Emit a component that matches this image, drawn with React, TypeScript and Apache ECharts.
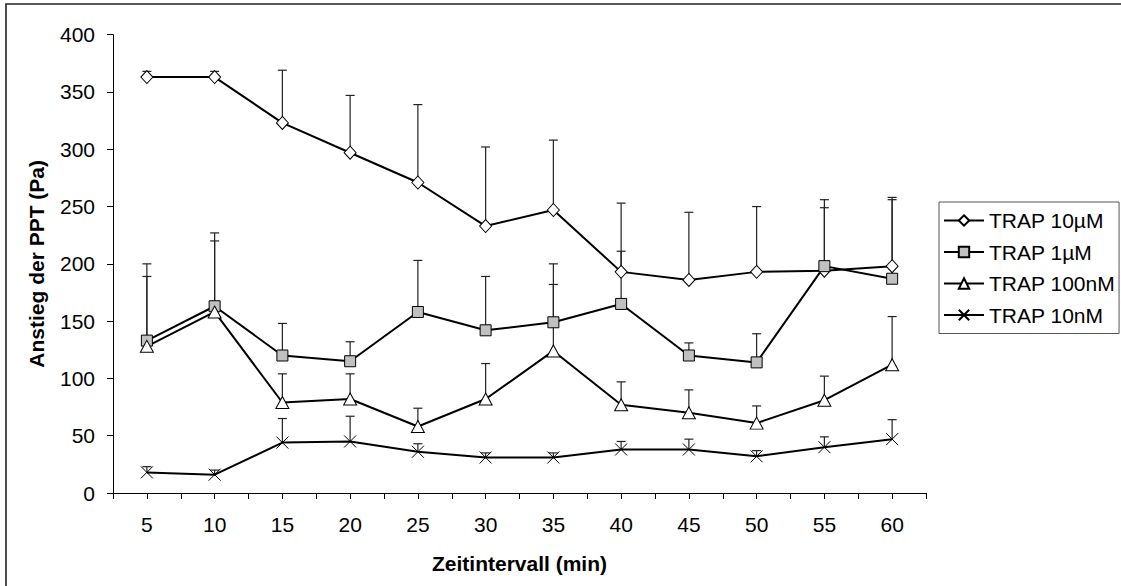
import React, { useEffect, useRef } from "react";
import * as echarts from "echarts";

const times = [5, 10, 15, 20, 25, 30, 35, 40, 45, 50, 55, 60];
const trap10uM = [363, 363, 323, 297, 271, 233, 247, 193, 186, 193, 194, 198];
const trap10uMErr = [5, 5, 46, 50, 68, 69, 61, 60, 59, 57, 55, 60];
const trap1uM = [133, 163, 120, 115, 158, 142, 149, 165, 120, 114, 198, 187];
const trap1uMErr = [67, 64, 28, 17, 45, 47, 51, 46, 11, 25, 58, 69];
const trap100nM = [128, 158, 79, 82, 58, 82, 124, 77, 70, 61, 81, 112];
const trap100nMErr = [61, 62, 25, 22, 16, 31, 58, 20, 20, 15, 21, 42];
const trap10nM = [18, 16, 44, 45, 36, 31, 31, 38, 38, 32, 40, 47];
const trap10nMErr = [5, 4, 21, 22, 7, 4, 4, 7, 9, 5, 9, 17];

const seriesNames = ["TRAP 10µM", "TRAP 1µM", "TRAP 100nM", "TRAP 10nM"];
const yTicks = [0, 50, 100, 150, 200, 250, 300, 350, 400];

const FONT = "'Liberation Sans', Arial, sans-serif";

export default function App() {
  const ref = useRef<HTMLDivElement>(null);
  useEffect(() => {
    if (!ref.current) return;
    const chart = echarts.init(ref.current, null, { renderer: "svg" });

    const values = [trap10uM, trap1uM, trap100nM, trap10nM];
    const errs = [trap10uMErr, trap1uMErr, trap100nMErr, trap10nMErr];
    const symbols = [
      { symbol: "diamond", size: [12, 13], fill: "#ffffff" },
      { symbol: "rect", size: [11, 11], fill: "#c0c0c0" },
      { symbol: "triangle", size: [13, 12], fill: "#ffffff" },
      { symbol: "path://M0,0L10,10M10,0L0,10", size: [12, 12], fill: "#000" },
    ];

    const errSeries = values.map((vals, si) => ({
      type: "custom",
      name: "err" + si,
      z: 1,
      silent: true,
      data: vals.map((v, i) => [times[i], v, v + errs[si][i]]),
      renderItem: (params: any, api: any) => {
        const p0 = api.coord([api.value(0), api.value(1)]);
        const p1 = api.coord([api.value(0), api.value(2)]);
        const st = { stroke: "#222", lineWidth: 1.2 };
        return {
          type: "group",
          children: [
            { type: "line", shape: { x1: p0[0], y1: p0[1], x2: p1[0], y2: p1[1] }, style: st },
            { type: "line", shape: { x1: p1[0] - 4.5, y1: p1[1], x2: p1[0] + 4.5, y2: p1[1] }, style: st },
          ],
        };
      },
    }));

    const lineSeries = values.map((vals, si) => ({
      type: "line",
      name: seriesNames[si],
      z: 3,
      data: vals.map((v, i) => [times[i], v]),
      symbol: symbols[si].symbol,
      symbolSize: symbols[si].size,
      symbolKeepAspect: false,
      showAllSymbol: true,
      lineStyle: { color: "#000", width: 2 },
      itemStyle: { color: symbols[si].fill, borderColor: "#000", borderWidth: 1 },
      emphasis: { disabled: true },
    }));

    chart.setOption({
      animation: false,
      backgroundColor: "#fff",
      textStyle: { fontFamily: FONT },
      graphic: [
        {
          type: "rect",
          shape: { x: 6, y: 4, width: 1300, height: 800 },
          style: { fill: "none", stroke: "#222", lineWidth: 1.6 },
          z: 0,
          silent: true,
        },
      ],
      grid: { left: 113, right: 195, top: 34.7, bottom: 93, containLabel: false },
      legend: {
        data: seriesNames,
        orient: "vertical",
        left: 939,
        top: 202,
        padding: [8, 4, 8, 4],
        itemWidth: 40,
        itemHeight: 13,
        itemGap: 10.5,
        borderColor: "#555",
        borderWidth: 1,
        borderRadius: 0,
        textStyle: { fontSize: 21, color: "#000", fontFamily: FONT, lineHeight: 20 },
        selectedMode: false,
      },
      xAxis: {
        type: "value",
        min: 2.5,
        max: 62.5,
        interval: 2.5,
        name: "Zeitintervall (min)",
        nameLocation: "middle",
        nameGap: 60,
        nameTextStyle: { fontSize: 21, fontWeight: "bold", color: "#000", fontFamily: FONT },
        axisLine: { lineStyle: { color: "#000", width: 1 } },
        axisTick: { show: true, length: 6, inside: false, lineStyle: { color: "#000" } },
        axisLabel: {
          fontSize: 21,
          color: "#000",
          margin: 21,
          fontFamily: FONT,
          formatter: (v: number) => (times.indexOf(Math.round(v * 10) / 10) >= 0 ? String(v) : ""),
        },
        splitLine: { show: false },
      },
      yAxis: {
        type: "value",
        min: yTicks[0],
        max: yTicks[yTicks.length - 1],
        interval: 50,
        name: "Anstieg der PPT (Pa)",
        nameLocation: "middle",
        nameGap: 66,
        nameRotate: 90,
        nameTextStyle: { fontSize: 21, fontWeight: "bold", color: "#000", fontFamily: FONT },
        axisLine: { show: true, lineStyle: { color: "#000", width: 1 } },
        axisTick: { show: true, length: 6, inside: false, lineStyle: { color: "#000" } },
        axisLabel: { fontSize: 21, color: "#000", margin: 18, fontFamily: FONT },
        splitLine: { show: false },
      },
      series: [...errSeries, ...lineSeries],
    });
    return () => chart.dispose();
  }, []);
  return (
    <div
      ref={ref}
      style={{ position: "fixed", left: 0, top: 0, width: 1121, height: 586, background: "#fff" }}
    />
  );
}
